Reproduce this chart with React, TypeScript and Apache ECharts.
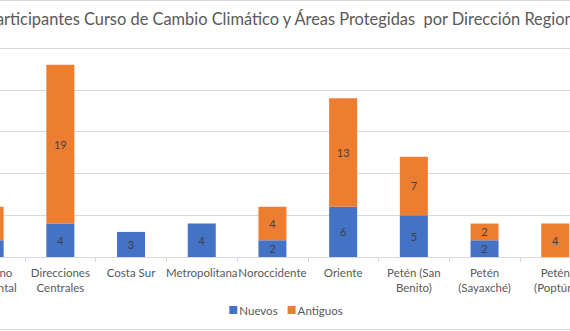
import React, { useEffect, useRef } from "react";
import * as echarts from "echarts";

const categories = [
  "Altiplano\nOccidental",
  "Direcciones\nCentrales",
  "Costa Sur",
  "Metropolitana",
  "Noroccidente",
  "Oriente",
  "Petén (San\nBenito)",
  "Petén\n(Sayaxché)",
  "Petén\n(Poptún)",
];
const nuevos: (number | null)[] = [2, 4, 3, 4, 2, 6, 5, 2, null];
const antiguos: (number | null)[] = [4, 19, null, null, 4, 13, 7, 2, 4];
const yTicks = { min: 0, max: 25, interval: 5 };
const titleText =
  "Participantes Curso de Cambio Climático y Áreas Protegidas  por Dirección Regional";

const FONT = "Lato, 'Open Sans', sans-serif";
const CHART_W = 680;
const CHART_LEFT = -54;

export default function App() {
  const ref = useRef<HTMLDivElement>(null);
  useEffect(() => {
    if (!ref.current) return;
    const chart = echarts.init(ref.current, null, { renderer: "svg" });
    const label = {
      show: true,
      position: "inside",
      color: "#404040",
      fontSize: 11,
      fontFamily: FONT,
    };
    chart.setOption({
      animation: false,
      backgroundColor: "#fff",
      title: {
        text: titleText,
        left: "center",
        top: 5,
        textStyle: {
          color: "#595959",
          fontSize: 16.4,
          fontWeight: "normal",
          fontFamily: FONT,
        },
      },
      legend: {
        bottom: 10,
        left: "center",
        itemWidth: 8,
        itemHeight: 8,
        itemGap: 10,
        icon: "rect",
        textStyle: { color: "#595959", fontSize: 11.5, fontFamily: FONT, padding: [0, 0, 0, -3] },
        data: ["Nuevos", "Antiguos"],
      },
      grid: { left: 8.3, right: 35.4, top: 48, bottom: 74, containLabel: false },
      xAxis: {
        type: "category",
        data: categories,
        axisLine: { lineStyle: { color: "#D9D9D9" } },
        axisTick: { show: true, length: 5, lineStyle: { color: "#D9D9D9" } },
        axisLabel: {
          color: "#595959",
          fontSize: 11.5,
          fontFamily: FONT,
          interval: 0,
          margin: 8,
          lineHeight: 15,
        },
      },
      yAxis: {
        type: "value",
        min: yTicks.min,
        max: yTicks.max,
        interval: yTicks.interval,
        axisLabel: { show: false },
        axisLine: { show: false },
        axisTick: { show: false },
        splitLine: { lineStyle: { color: "#D9D9D9" } },
      },
      series: [
        {
          name: "Nuevos",
          type: "bar",
          stack: "total",
          barWidth: 28,
          itemStyle: { color: "#4472C4" },
          label,
          data: nuevos,
        },
        {
          name: "Antiguos",
          type: "bar",
          stack: "total",
          barWidth: 28,
          itemStyle: { color: "#ED7D31" },
          label,
          data: antiguos,
        },
      ],
      graphic: [
        { type: "line", shape: { x1: 0, y1: 0.5, x2: CHART_W, y2: 0.5 }, style: { stroke: "#D9D9D9", lineWidth: 1 } },
        { type: "line", shape: { x1: 0, y1: 329.5, x2: CHART_W, y2: 329.5 }, style: { stroke: "#D9D9D9", lineWidth: 1 } },
      ],
    });
    return () => chart.dispose();
  }, []);
  return (
    <div style={{ position: "fixed", left: 0, top: 0, width: 570, height: 331, overflow: "hidden", background: "#fff" }}>
      <div
        ref={ref}
        style={{ position: "absolute", left: CHART_LEFT, top: 0, width: CHART_W, height: 331 }}
      />
    </div>
  );
}
